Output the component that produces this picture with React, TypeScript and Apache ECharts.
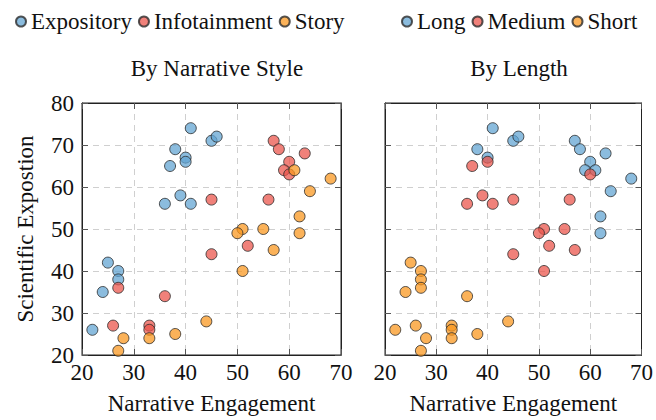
import React, { useEffect, useRef } from "react";
import * as echarts from "echarts";

// Each point: narrative engagement (x), scientific exposition (y), style, length
const engagement = [
  41, 45, 46, 38, 40, 40, 37, 39, 36, 41, 25, 27, 27, 24, 22,
  57, 58, 63, 60, 59, 60, 45, 56, 52, 45, 27, 36, 26, 33, 33,
  61, 68, 64, 62, 62, 51, 50, 55, 57, 51, 44, 28, 33, 38, 27,
];
const exposition = [
  74, 71, 72, 69, 67, 66, 65, 58, 56, 56, 42, 40, 38, 35, 26,
  71, 69, 68, 66, 64, 63, 57, 57, 46, 44, 36, 34, 27, 27, 26,
  64, 62, 59, 53, 49, 50, 49, 50, 45, 40, 28, 24, 24, 25, 21,
];
const narrativeStyle = [
  "Expository", "Expository", "Expository", "Expository", "Expository",
  "Expository", "Expository", "Expository", "Expository", "Expository",
  "Expository", "Expository", "Expository", "Expository", "Expository",
  "Infotainment", "Infotainment", "Infotainment", "Infotainment", "Infotainment",
  "Infotainment", "Infotainment", "Infotainment", "Infotainment", "Infotainment",
  "Infotainment", "Infotainment", "Infotainment", "Infotainment", "Infotainment",
  "Story", "Story", "Story", "Story", "Story",
  "Story", "Story", "Story", "Story", "Story",
  "Story", "Story", "Story", "Story", "Story",
];
const lengthGroup = [
  "Long", "Long", "Long", "Long", "Long",
  "Medium", "Medium", "Medium", "Medium", "Medium",
  "Short", "Short", "Short", "Short", "Short",
  "Long", "Long", "Long", "Long", "Long",
  "Medium", "Medium", "Medium", "Medium", "Medium",
  "Short", "Short", "Short", "Short", "Short",
  "Long", "Long", "Long", "Long", "Long",
  "Medium", "Medium", "Medium", "Medium", "Medium",
  "Short", "Short", "Short", "Short", "Short",
];

const styleNames = ["Expository", "Infotainment", "Story"];
const lengthNames = ["Long", "Medium", "Short"];
const panelTitles = ["By Narrative Style", "By Length"];
const xAxisTitle = "Narrative Engagement";
const yAxisTitle = "Scientific Expostion";

const colors = ["rgba(98,164,210,0.92)", "rgba(235,84,74,0.92)", "rgba(250,150,30,0.92)"];
const FONT = "Liberation Serif";
const FS = 23;

export default function App() {
  const ref = useRef<HTMLDivElement>(null);
  useEffect(() => {
    if (!ref.current) return;
    const chart = echarts.init(ref.current, undefined, { renderer: "svg" });

    const grids = [
      { left: 82, top: 103, width: 259, height: 258 },
      { left: 385, top: 103, width: 258, height: 258 },
    ];

    const tickStyle = { show: true, inside: true, length: 6, lineStyle: { color: "#555", width: 1 } };
    const lineStyle = { show: true, lineStyle: { color: "#222", width: 1 } };
    const split = { show: true, lineStyle: { color: "#cfcfcf", type: [6, 5] as any, width: 1 } };
    const label = { fontFamily: FONT, fontSize: FS, color: "#111" };

    const xAxis: any[] = [];
    const yAxis: any[] = [];
    for (let g = 0; g < 2; g++) {
      xAxis.push({
        type: "value", gridIndex: g, min: 20, max: 70, interval: 10, position: "bottom",
        name: xAxisTitle, nameLocation: "middle", nameGap: 37,
        nameTextStyle: { fontFamily: FONT, fontSize: FS, color: "#111" },
        axisLine: lineStyle, axisTick: tickStyle, splitLine: split,
        axisLabel: { ...label, margin: 6 },
      });
      xAxis.push({
        type: "value", gridIndex: g, min: 20, max: 70, interval: 10, position: "top",
        axisLine: lineStyle, axisTick: tickStyle, splitLine: { show: false },
        axisLabel: { show: false },
      });
      yAxis.push({
        type: "value", gridIndex: g, min: 20, max: 80, interval: 10, position: "left",
        name: g === 0 ? yAxisTitle : "", nameLocation: "middle", nameGap: 45,
        nameTextStyle: { fontFamily: FONT, fontSize: FS, color: "#111" },
        axisLine: lineStyle, axisTick: tickStyle, splitLine: split,
        axisLabel: { ...label, margin: 8, show: g === 0 },
      });
      yAxis.push({
        type: "value", gridIndex: g, min: 20, max: 80, interval: 10, position: "right",
        axisLine: lineStyle, axisTick: tickStyle, splitLine: { show: false },
        axisLabel: { show: false },
      });
    }

    const series: any[] = [];
    const groupSets = [
      { names: styleNames, key: narrativeStyle },
      { names: lengthNames, key: lengthGroup },
    ];
    groupSets.forEach((set, p) => {
      set.names.forEach((name, ci) => {
        const data: number[][] = [];
        engagement.forEach((x, i) => {
          if (set.key[i] === name) data.push([x, exposition[i]]);
        });
        series.push({
          type: "scatter", name, xAxisIndex: p * 2, yAxisIndex: p * 2,
          data, symbol: "circle", symbolSize: 11,
          itemStyle: { color: colors[ci], borderColor: "#2a2a2a", borderWidth: 1 },
          emphasis: { disabled: true },
        });
      });
    });

    const legendBase = {
      top: 5, orient: "horizontal", itemWidth: 10, itemHeight: 10, itemGap: 6,
      icon: "circle", selectedMode: false,
      textStyle: { fontFamily: FONT, fontSize: FS, color: "#111" },
    };

    chart.setOption({
      animation: false,
      backgroundColor: "#ffffff",
      title: [
        { text: panelTitles[0], left: 212, top: 52, textAlign: "center",
          textStyle: { fontFamily: FONT, fontSize: FS, fontWeight: "normal", color: "#111" } },
        { text: panelTitles[1], left: 514, top: 52, textAlign: "center",
          textStyle: { fontFamily: FONT, fontSize: FS, fontWeight: "normal", color: "#111" } },
      ],
      legend: [
        { ...legendBase, left: 10, data: styleNames },
        { ...legendBase, left: 396, data: lengthNames },
      ],
      grid: grids.map((g) => ({ ...g, show: true, borderColor: "#222", borderWidth: 1, containLabel: false })),
      xAxis,
      yAxis,
      series,
    });
    return () => chart.dispose();
  }, []);
  return (
    <div
      ref={ref}
      style={{ position: "absolute", left: 0, top: 0, width: 656, height: 420 }}
    />
  );
}
